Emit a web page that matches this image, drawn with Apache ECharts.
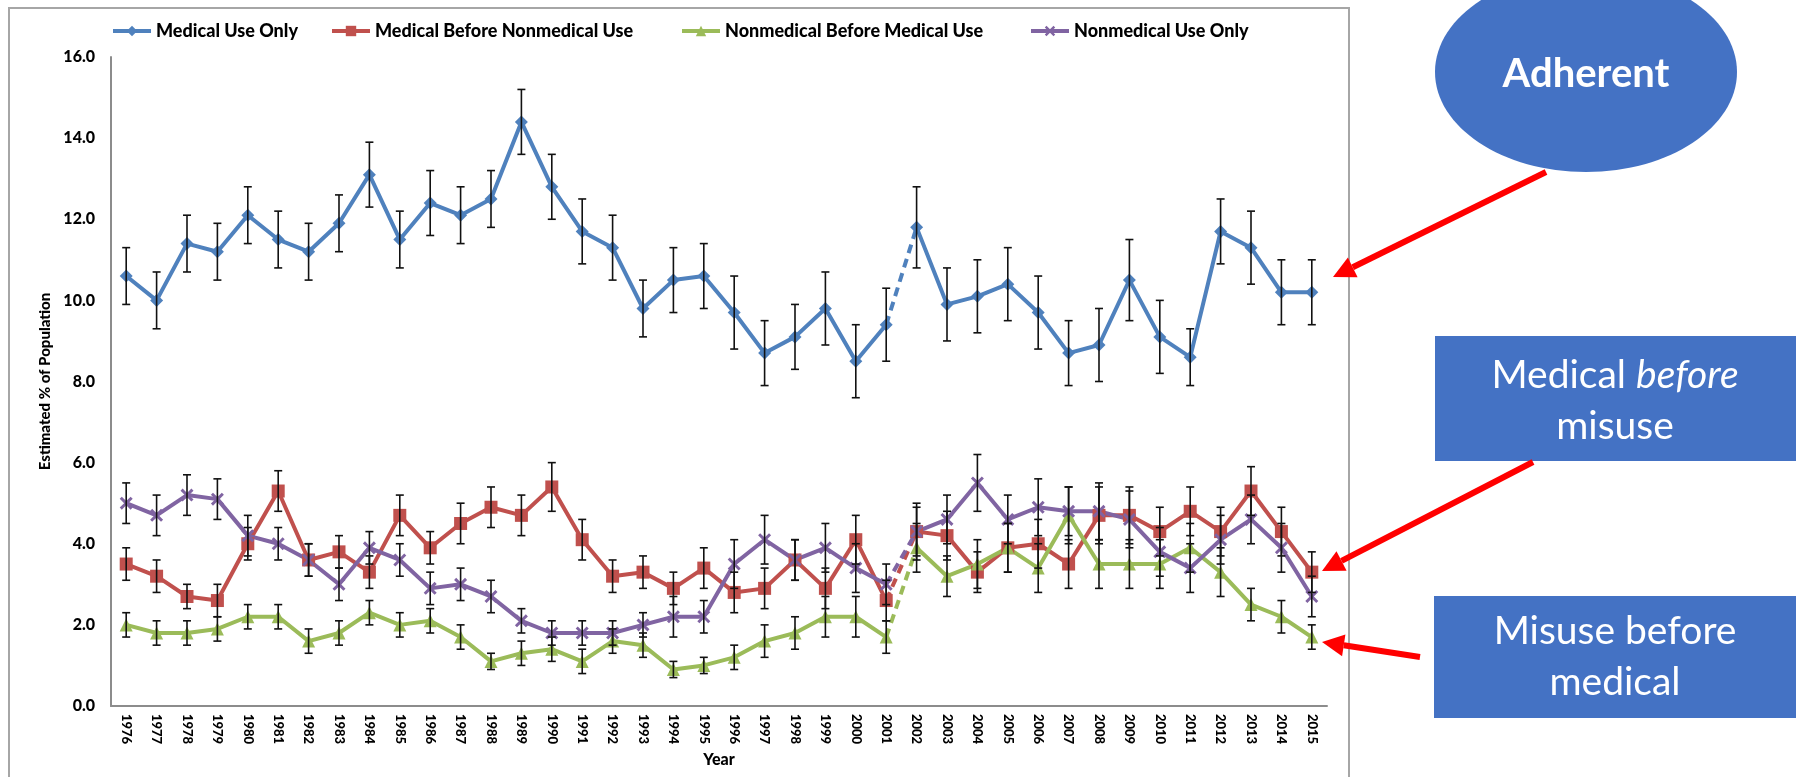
<!DOCTYPE html>
<html>
<head>
<meta charset="utf-8">
<script src="https://cdn.jsdelivr.net/npm/echarts@6/dist/echarts.min.js"></script>
<style>
  html, body { margin: 0; padding: 0; background: #ffffff; }
  #chart { width: 1796px; height: 777px; }
</style>
</head>
<body>
<div id="chart"></div>
<script>
// Survey years
const years = ['1976','1977','1978','1979','1980','1981','1982','1983','1984','1985',
               '1986','1987','1988','1989','1990','1991','1992','1993','1994','1995',
               '1996','1997','1998','1999','2000','2001','2002','2003','2004','2005',
               '2006','2007','2008','2009','2010','2011','2012','2013','2014','2015'];

// Estimated % of population per group
const medicalUseOnly = [10.6,10.0,11.4,11.2,12.1,11.5,11.2,11.9,13.1,11.5,
                        12.4,12.1,12.5,14.4,12.8,11.7,11.3,9.8,10.5,10.6,
                        9.7,8.7,9.1,9.8,8.5,9.4,11.8,9.9,10.1,10.4,
                        9.7,8.7,8.9,10.5,9.1,8.6,11.7,11.3,10.2,10.2];
const medicalBeforeNonmedical = [3.5,3.2,2.7,2.6,4.0,5.3,3.6,3.8,3.3,4.7,
                                 3.9,4.5,4.9,4.7,5.4,4.1,3.2,3.3,2.9,3.4,
                                 2.8,2.9,3.6,2.9,4.1,2.6,4.3,4.2,3.3,3.9,
                                 4.0,3.5,4.7,4.7,4.3,4.8,4.3,5.3,4.3,3.3];
const nonmedicalBeforeMedical = [2.0,1.8,1.8,1.9,2.2,2.2,1.6,1.8,2.3,2.0,
                                 2.1,1.7,1.1,1.3,1.4,1.1,1.6,1.5,0.9,1.0,
                                 1.2,1.6,1.8,2.2,2.2,1.7,3.9,3.2,3.5,3.9,
                                 3.4,4.7,3.5,3.5,3.5,3.9,3.3,2.5,2.2,1.7];
const nonmedicalUseOnly = [5.0,4.7,5.2,5.1,4.2,4.0,3.6,3.0,3.9,3.6,
                           2.9,3.0,2.7,2.1,1.8,1.8,1.8,2.0,2.2,2.2,
                           3.5,4.1,3.6,3.9,3.4,3.0,4.3,4.6,5.5,4.6,
                           4.9,4.8,4.8,4.6,3.8,3.4,4.1,4.6,3.9,2.7];

// Half-widths of the confidence intervals
const medicalUseOnlyErr = [0.7,0.7,0.7,0.7,0.7,0.7,0.7,0.7,0.8,0.7,
                           0.8,0.7,0.7,0.8,0.8,0.8,0.8,0.7,0.8,0.8,
                           0.9,0.8,0.8,0.9,0.9,0.9,1.0,0.9,0.9,0.9,
                           0.9,0.8,0.9,1.0,0.9,0.7,0.8,0.9,0.8,0.8];
const medicalBeforeNonmedicalErr = [0.4,0.4,0.3,0.4,0.4,0.5,0.4,0.4,0.4,0.5,
                                    0.4,0.5,0.5,0.5,0.6,0.5,0.4,0.4,0.4,0.5,
                                    0.5,0.5,0.5,0.5,0.6,0.5,0.7,0.6,0.5,0.6,
                                    0.6,0.6,0.7,0.7,0.6,0.6,0.6,0.6,0.6,0.5];
const nonmedicalBeforeMedicalErr = [0.3,0.3,0.3,0.3,0.3,0.3,0.3,0.3,0.3,0.3,
                                    0.3,0.3,0.2,0.3,0.3,0.3,0.3,0.3,0.2,0.2,
                                    0.3,0.4,0.4,0.5,0.5,0.4,0.6,0.5,0.6,0.6,
                                    0.6,0.7,0.6,0.6,0.6,0.6,0.6,0.4,0.4,0.3];
const nonmedicalUseOnlyErr = [0.5,0.5,0.5,0.5,0.5,0.4,0.4,0.4,0.4,0.4,
                              0.4,0.4,0.4,0.3,0.3,0.3,0.3,0.3,0.5,0.4,
                              0.6,0.6,0.5,0.6,0.6,0.5,0.6,0.6,0.7,0.6,
                              0.7,0.6,0.7,0.7,0.6,0.6,0.6,0.6,0.6,0.5];

const seriesNames = ['Medical Use Only', 'Medical Before Nonmedical Use',
                     'Nonmedical Before Medical Use', 'Nonmedical Use Only'];
const yTicks = [0, 2, 4, 6, 8, 10, 12, 14, 16];

// Survey method changed between 2001 and 2002: that step is drawn dashed
const breakAfter = '2001';

const FONT = 'Lato';
const crossPath = 'path://M0,1.6 L1.6,0 L5,3.4 L8.4,0 L10,1.6 L6.6,5 L10,8.4 L8.4,10 L5,6.6 L1.6,10 L0,8.4 L3.4,5 Z';

const groups = [
  { name: seriesNames[0], values: medicalUseOnly, err: medicalUseOnlyErr, color: '#4F81BD', symbol: 'diamond', size: 13 },
  { name: seriesNames[1], values: medicalBeforeNonmedical, err: medicalBeforeNonmedicalErr, color: '#C0504D', symbol: 'rect', size: 13 },
  { name: seriesNames[2], values: nonmedicalBeforeMedical, err: nonmedicalBeforeMedicalErr, color: '#9BBB59', symbol: 'triangle', size: 13 },
  { name: seriesNames[3], values: nonmedicalUseOnly, err: nonmedicalUseOnlyErr, color: '#8064A2', symbol: crossPath, size: 13 }
];

const cut = years.indexOf(breakAfter);
const series = [];

groups.forEach(function (g) {
  const early = g.values.map(function (v, i) { return i <= cut ? v : null; });
  const late = g.values.map(function (v, i) { return i > cut ? v : null; });
  const bridge = g.values.map(function (v, i) { return (i === cut || i === cut + 1) ? v : null; });
  const common = {
    type: 'line', name: g.name, symbol: g.symbol, symbolSize: g.size,
    itemStyle: { color: g.color }, lineStyle: { color: g.color, width: 4 },
    connectNulls: false, animation: false, z: 2
  };
  series.push(Object.assign({}, common, { data: early }));
  series.push(Object.assign({}, common, { data: late }));
  series.push({
    type: 'line', name: g.name, data: bridge, showSymbol: false, symbol: 'none',
    lineStyle: { color: g.color, width: 4, type: [9, 6] }, animation: false, z: 1
  });
});

// Error bars, drawn for every point
groups.forEach(function (g) {
  series.push({
    type: 'custom', name: g.name + ' CI',
    data: g.values.map(function (v, i) { return [i, +(v - g.err[i]).toFixed(2), +(v + g.err[i]).toFixed(2)]; }),
    encode: { x: 0, y: [1, 2] },
    renderItem: function (params, api) {
      const i = api.value(0);
      const lo = api.coord([i, api.value(1)]);
      const hi = api.coord([i, api.value(2)]);
      const hw = 4;
      const st = { stroke: '#111', lineWidth: 1.6 };
      return {
        type: 'group', children: [
          { type: 'line', shape: { x1: lo[0], y1: lo[1], x2: hi[0], y2: hi[1] }, style: st },
          { type: 'line', shape: { x1: hi[0] - hw, y1: hi[1], x2: hi[0] + hw, y2: hi[1] }, style: st },
          { type: 'line', shape: { x1: lo[0] - hw, y1: lo[1], x2: lo[0] + hw, y2: lo[1] }, style: st }
        ]
      };
    },
    animation: false, z: 3, silent: true
  });
});

const legendLefts = [111, 330, 680, 1029];
const legends = seriesNames.map(function (n, k) {
  return {
    data: [n], left: legendLefts[k], top: 22, padding: 0, itemWidth: 38, itemHeight: 13, itemGap: 4,
    lineStyle: { width: 4 },
    textStyle: { fontFamily: FONT, fontWeight: 900, fontSize: 18, color: '#000' },
    selectedMode: false
  };
});

function arrow(x1, y1, x2, y2) {
  const ang = Math.atan2(y2 - y1, x2 - x1);
  const L = 22, W = 11;
  const bx = x2 - L * Math.cos(ang), by = y2 - L * Math.sin(ang);
  const px = -Math.sin(ang) * W, py = Math.cos(ang) * W;
  return [
    { type: 'line', shape: { x1: x1, y1: y1, x2: bx, y2: by }, style: { stroke: '#FF0000', lineWidth: 6 }, z: 20 },
    { type: 'polygon', shape: { points: [[x2, y2], [bx + px, by + py], [bx - px, by - py]] }, style: { fill: '#FF0000' }, z: 20 }
  ];
}

const chart = echarts.init(document.getElementById('chart'));
chart.setOption({
  backgroundColor: '#ffffff',
  animation: false,
  legend: legends,
  grid: { left: 111, right: 469, top: 57, bottom: 71 },
  xAxis: {
    type: 'category', data: years, boundaryGap: true,
    name: 'Year', nameLocation: 'middle', nameGap: 41,
    nameTextStyle: { fontFamily: FONT, fontWeight: 900, fontSize: 16, color: '#000' },
    axisLine: { lineStyle: { color: '#8c8c8c', width: 2 } },
    axisTick: { show: false },
    axisLabel: { rotate: -90, interval: 0, margin: 8, fontFamily: FONT, fontWeight: 900, fontSize: 13, color: '#000' }
  },
  yAxis: {
    type: 'value', min: yTicks[0], max: yTicks[yTicks.length - 1], interval: 2,
    name: 'Estimated % of Population', nameLocation: 'middle', nameGap: 57, nameRotate: 90,
    nameTextStyle: { fontFamily: FONT, fontWeight: 900, fontSize: 15, color: '#000' },
    axisLine: { show: true, lineStyle: { color: '#8c8c8c', width: 2 } },
    axisTick: { show: false },
    splitLine: { show: false },
    axisLabel: { margin: 16, fontFamily: FONT, fontWeight: 900, fontSize: 16, color: '#000',
                 formatter: function (v) { return v.toFixed(1); } }
  },
  series: series,
  graphic: [
    { type: 'rect', shape: { x: 9, y: 8, width: 1340, height: 800 }, style: { fill: null, stroke: '#a6a6a6', lineWidth: 2 }, silent: true, z: -1 },
    { type: 'ellipse', shape: { cx: 1586, cy: 72, rx: 151, ry: 100 }, style: { fill: '#4472C4' }, z: 10 },
    { type: 'text', x: 1586, y: 74, style: { text: 'Adherent', fill: '#fff', font: 'bold 40px Lato', align: 'center', verticalAlign: 'middle' }, z: 11 },
    { type: 'rect', shape: { x: 1435, y: 336, width: 361, height: 125 }, style: { fill: '#4472C4' }, z: 10 },
    { type: 'text', x: 1615, y: 401, z: 11, style: {
        text: '{n|Medical }{i|before}\n{n|misuse}', align: 'center', verticalAlign: 'middle',
        rich: {
          n: { fill: '#fff', fontFamily: FONT, fontSize: 39, lineHeight: 51 },
          i: { fill: '#fff', fontFamily: FONT, fontSize: 39, fontStyle: 'italic', lineHeight: 51 }
        } } },
    { type: 'rect', shape: { x: 1434, y: 596, width: 362, height: 122 }, style: { fill: '#4472C4' }, z: 10 },
    { type: 'text', x: 1615, y: 657, z: 11, style: {
        text: 'Misuse before\nmedical', align: 'center', verticalAlign: 'middle',
        fill: '#fff', fontFamily: FONT, fontSize: 39, lineHeight: 51 } }
  ].concat(arrow(1546, 172, 1333, 277))
   .concat(arrow(1533, 462, 1322, 571))
   .concat(arrow(1420, 657, 1322, 642))
});
</script>
</body>
</html>
